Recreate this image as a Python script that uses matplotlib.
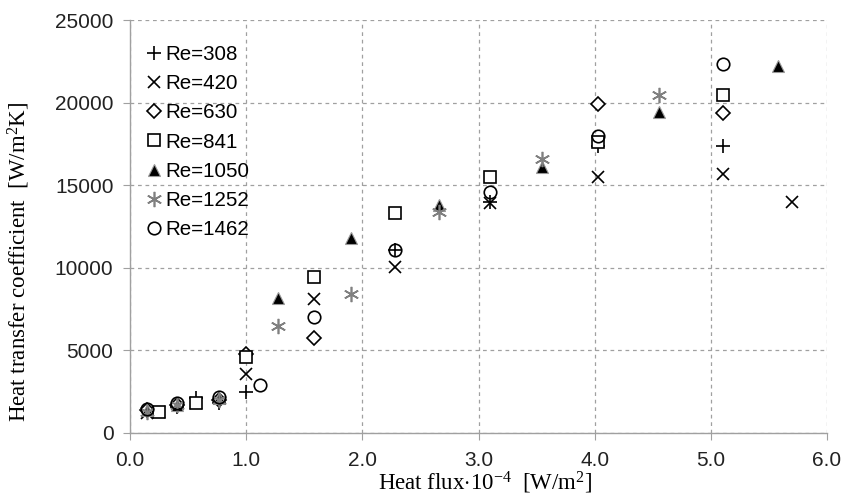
import numpy as np
import matplotlib
matplotlib.use("Agg")
import matplotlib.pyplot as plt

plt.rcParams['font.family'] = ['Liberation Sans', 'DejaVu Sans']
plt.rcParams['mathtext.fontset'] = 'custom'
plt.rcParams['mathtext.rm'] = 'Liberation Serif'
plt.rcParams['mathtext.it'] = 'Liberation Serif:italic'

# heat flux (x 10^-4 W/m2) and heat transfer coefficient (W/m2K) per Reynolds number
re308_x = [0.15, 0.40, 0.57, 0.77, 1.00, 2.28, 3.10, 4.03, 5.10]
re308_y = [1400, 1600, 2100, 1800, 2500, 11100, 14000, 17400, 17400]

re420_x = [0.15, 0.25, 0.57, 1.00, 1.58, 2.28, 3.10, 4.03, 5.10, 5.70]
re420_y = [1200, 1300, 1800, 3600, 8100, 10050, 13900, 15500, 15700, 14000]

re630_x = [0.15, 0.40, 0.77, 1.00, 1.58, 4.03, 5.10]
re630_y = [1400, 1700, 2000, 4800, 5750, 19900, 19400]

re841_x = [0.25, 0.57, 1.00, 1.58, 2.28, 3.10, 4.03, 5.10]
re841_y = [1300, 1800, 4600, 9450, 13300, 15500, 17600, 20450]

re1050_x = [0.15, 0.40, 0.77, 1.27, 1.90, 2.66, 3.55, 4.55, 5.58]
re1050_y = [1400, 1700, 2100, 8200, 11800, 13800, 16100, 19450, 22200]

re1252_x = [0.15, 0.40, 0.77, 1.27, 1.90, 2.66, 3.55, 4.55]
re1252_y = [1300, 1700, 2000, 6450, 8400, 13400, 16600, 20450]

re1462_x = [0.15, 0.40, 0.77, 1.12, 1.58, 2.28, 3.10, 4.03, 5.10]
re1462_y = [1450, 1800, 2150, 2900, 7000, 11100, 14600, 18000, 22350]

fig = plt.figure(figsize=(8.5, 5), dpi=100)
ax = fig.add_axes([0.153, 0.134, 0.820, 0.826])

ms = 9
ax.plot(re308_x, re308_y, ls='none', marker='+', ms=ms + 1, mew=1.2, color='black', label='Re=308')
ax.plot(re420_x, re420_y, ls='none', marker='x', ms=ms, mew=1.2, color='black', label='Re=420')
ax.plot(re630_x, re630_y, ls='none', marker='D', ms=ms - 2, mew=1.2, mfc='white', mec='black', label='Re=630')
ax.plot(re841_x, re841_y, ls='none', marker='s', ms=ms, mew=1.2, mfc='white', mec='black', label='Re=841')
ax.plot(re1050_x, re1050_y, ls='none', marker='^', ms=ms, mew=0.8, mfc='black', mec='#999999', label='Re=1050')
ax.plot(re1252_x, re1252_y, ls='none', marker=(6, 2, 0), ms=ms + 2, mew=1.2, color='#808080', label='Re=1252')
ax.plot(re1462_x, re1462_y, ls='none', marker='o', ms=ms, mew=1.2, mfc='none', mec='black', label='Re=1462')

ax.set_xlim(0, 6.0)
ax.set_ylim(0, 25000)
ax.set_xticks(np.arange(0, 6.01, 1.0))
ax.set_xticklabels(['%.1f' % v for v in np.arange(0, 6.01, 1.0)])
ax.set_yticks(np.arange(0, 25001, 5000))

ax.grid(True, ls=(0, (3, 3)), color='#a0a0a0', lw=0.9)
ax.set_axisbelow(True)
for s in ['top', 'right']:
    ax.spines[s].set_visible(False)
for s in ['left', 'bottom']:
    ax.spines[s].set_color('#a0a0a0')
    ax.spines[s].set_linewidth(1.0)
ax.tick_params(direction='out', length=5, color='#a0a0a0', labelsize=15, labelcolor='#222222')
ax.tick_params(axis='y', pad=7)
ax.tick_params(axis='x', pad=8)

ax.set_xlabel('Heat flux$\\cdot$10$^{-4}$  [W/m$^2$]', family='Liberation Serif', fontsize=16.5)
ax.set_ylabel('Heat transfer coefficient  [W/m$^2$K]', family='Liberation Serif', fontsize=16.5)
ax.xaxis.set_label_coords(0.509, -0.088)
ax.yaxis.set_label_coords(-0.14, 0.414)

ax.legend(loc='upper left', frameon=False, fontsize=14.8, handletextpad=0.1, handlelength=0.9,
          labelspacing=0.5, borderaxespad=0.3, bbox_to_anchor=(0.0, 0.975))

fig.savefig('out.png', dpi=100)
